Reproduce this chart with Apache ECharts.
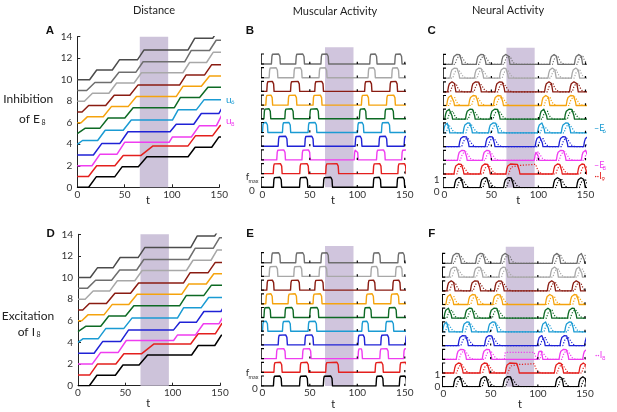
<!DOCTYPE html>
<html><head><meta charset="utf-8">
<script src="https://cdn.jsdelivr.net/npm/echarts/dist/echarts.min.js"></script>
<style>html,body{margin:0;padding:0;background:#fff}#c{width:617px;height:412px}</style>
</head><body><div id="c"></div>
<script>
// ---------------- data ----------------
const ROW_COLORS = ['#000000','#e41f1d','#ef3df0','#1f22d6','#1a9bd3','#0d6a24','#f5a30d','#8a1c12','#a8a8a8','#6e6e6e'];
const HEAD_COLOR = '#4b4b4b';
const X_TICKS = [0, 50, 100, 150];
const DIST_TICKS = [0, 2, 4, 6, 8, 10, 12, 14];
const SHADE_T = [66, 96];

// muscle pulses [on, off], top row (inhibition of E8), rows bottom -> top
const B_BLACK   = [[12,20],[39.5,47.5],[64.5,73.5],[117,124.5],[142,149.5]];
const B_RED     = [[11.8,20.5],[39.7,48.5],[67,80],[117,125],[143,151]];
const B_MAGENTA = [[15.5,24],[42,50],[97,100.5],[120.5,129],[147,153]];
const B_BLUE    = [[17,26],[45,53.5],[98,104.5],[123,131],[149.5,156]];
const B_CYAN    = [[0.5,5.5],[21.5,29.5],[48.5,57],[100.5,106.5],[125.7,134]];
const B_GREEN   = [[2,8.5],[24,32.5],[50.2,59],[102.5,109],[129.2,138]];
const B_ORANGE  = [[4,10.5],[27.4,36],[53.7,62.5],[104.6,111.8],[131,139.7]];
const B_BROWN   = [[5,12],[30,39],[55.5,64],[108,115],[134.5,142]];
const B_LGRAY   = [[7.5,16],[33.4,41.5],[60,67.8],[111.6,118.6],[136.5,143.5]];
const B_GRAY    = [[9.9,18.6],[35.5,44],[62,69.5],[113.4,120.4],[139.7,146.7]];

// muscle pulses, bottom row (excitation of I8)
const E_BLACK   = [[12,20],[39.5,47.5],[64.5,73.5],[120,127],[144.5,151.5]];
const E_RED     = [[12.5,20.5],[40,48.5],[67,80],[119,127],[145,152]];
const E_MAGENTA = [[15,24],[42.5,51],[101,105],[124,132.5],[149,156]];
const E_BLUE    = [[17,26],[45,53.5],[101,107.5],[125,133],[151,158]];
const E_CYAN    = [[0.5,5.5],[21.5,29.5],[48.5,57],[105,111.5],[130,138]];
const E_GREEN   = [[2,8.5],[24,32.5],[50.2,59],[107.5,114.5],[133,141]];
const E_ORANGE  = [[4,10.5],[27.4,36],[53.7,62.5],[109.5,117],[135.5,143.5]];
const E_BROWN   = [[5,12],[30,39],[55.5,64],[111.5,118.5],[137.5,145]];
const E_LGRAY   = [[7.5,16],[33.4,41.5],[60,67.8],[114.5,121.5],[140.5,147]];
const E_GRAY    = [[9.9,18.6],[35.5,44],[62,69.5],[116.8,123.9],[143,149.5]];

// distance gained during each pulse (panels A, D)
const RISE_BLACK   = [0.97,0.95,0.92,0.88,0.95];
const RISE_RED     = [1.0,0.95,0.9,0.95,0.95];
const RISE_MAGENTA = [1.08,1.1,0.5,1.05,1.05];
const RISE_BLUE    = [1.08,1.08,0.7,1.0,1.0];
const RISE_CYAN    = [0.35,0.95,0.95,0.95,0.95];
const RISE_GREEN   = [0.5,0.95,0.95,0.95,0.95];
const RISE_ORANGE  = [0.55,0.95,0.95,0.95,0.95];
const RISE_BROWN   = [0.6,0.95,0.95,0.95,0.95];
const RISE_LGRAY   = [0.75,0.95,0.95,0.95,0.95];
const RISE_GRAY    = [0.75,0.95,0.97,1.05,0.95];
const HEAD_PULSES_A = [[13,20.5],[37,44.5],[63.5,70.5],[117,124],[143,150]];
const HEAD_PULSES_D = [[13,20.5],[37,44.5],[63.5,70.5],[119,126],[144.5,151]];
const HEAD_RISE = [0.9,0.95,0.92,1.08,0.95];

// shape templates: [offset, level]
const M_UP   = [[-0.3,0],[0.2,0.75],[0.8,0.97],[1.5,1]];
const M_DOWN = [[-1.4,1],[-0.7,0.97],[-0.1,0.75],[0.4,0]];
const E_UP   = [[-1.5,0],[-0.6,0.5],[0.4,0.8],[1.8,0.96],[3.2,1]];
const E_DOWN = [[-2.4,0.97],[-1.2,0.82],[-0.3,0.35],[0.3,0]];
const I_UP   = [[1.5,0],[3,0.45],[4.5,0.7]];
const I_DOWN = [[-1,0.85],[0.6,0.8],[2,0.45],[4,0.16],[6,0.04],[7.5,0]];

// sustained inhibitory activity in the shaded window
const C_I9_HOLD = {row: 1, pulse: 2, until: 97, level: 0.97};
const F_I9_HOLD = {row: 1, pulse: 2, until: 96, level: 0.92};
const F_I8_PLATEAU = [[64.5,0],[65.5,0.7],[96,0.7],[97.5,0.3],[99,0]];
const ROW_GAP = 1.37;

const B_ROWS = [B_BLACK,B_RED,B_MAGENTA,B_BLUE,B_CYAN,B_GREEN,B_ORANGE,B_BROWN,B_LGRAY,B_GRAY];
const E_ROWS = [E_BLACK,E_RED,E_MAGENTA,E_BLUE,E_CYAN,E_GREEN,E_ORANGE,E_BROWN,E_LGRAY,E_GRAY];
const RISES  = [RISE_BLACK,RISE_RED,RISE_MAGENTA,RISE_BLUE,RISE_CYAN,RISE_GREEN,RISE_ORANGE,RISE_BROWN,RISE_LGRAY,RISE_GRAY];

// ---------------- builders ----------------
function shapeTrace(pulses, up, down, base) {
  const pts = [[-5, base]];
  pulses.forEach(([s, e]) => {
    const dn = down.map(([d, v]) => [e + d, base + v]);
    up.forEach(([d, v]) => { if (s + d < dn[0][0]) pts.push([s + d, base + v]); });
    pts.push(...dn);
  });
  pts.push([160, base]);
  return pts;
}
function inhibTrace(pulses, base, hold, extra) {
  let pts = [[-5, base]];
  pulses.forEach(([s, e], k) => {
    let dn;
    if (hold && hold.pulse === k) {
      dn = [[e - 1, base + 0.85], [e + 1, base + hold.level], [hold.until, base + hold.level]]
        .concat(I_DOWN.slice(2).map(([d, v]) => [hold.until + d, base + v]));
    } else {
      dn = I_DOWN.map(([d, v]) => [e + d, base + v]);
    }
    I_UP.forEach(([d, v]) => { if (s + d < dn[0][0]) pts.push([s + d, base + v]); });
    pts.push(...dn);
  });
  if (extra) pts = pts.concat(extra.map(([t, v]) => [t, base + v]));
  pts.push([160, base]);
  pts.sort((a, b) => a[0] - b[0]);
  return pts;
}
function distLine(start, pulses, rises) {
  const pts = [[0, start]]; let v = start;
  pulses.forEach(([s, e], k) => { pts.push([Math.max(s, 0), v]); v += rises[k]; pts.push([e, v]); });
  pts.push([160, v]);
  return pts;
}

// ---------------- chart ----------------
const chart = echarts.init(document.getElementById('c'), null, {renderer: 'canvas', width: 617, height: 412});
const FONT = 'Lato, "Open Sans", sans-serif';
const grids = [
  {left: 77.3, top: 36.7, width: 142, height: 150.6},
  {left: 262.3, top: 47.3, width: 142.5, height: 140},
  {left: 444.3, top: 47.7, width: 141.2, height: 140},
  {left: 78, top: 234.3, width: 142, height: 151.4},
  {left: 262.3, top: 246, width: 142.5, height: 140},
  {left: 443.5, top: 246.7, width: 141.5, height: 140}
];
const isDist = g => g === 0 || g === 3;
const xAxes = grids.map((g, i) => ({
  gridIndex: i, type: 'value', min: X_TICKS[0], max: X_TICKS[X_TICKS.length - 1], interval: 50,
  axisLine: {show: isDist(i), lineStyle: {color: '#222', width: 1}},
  axisTick: {show: isDist(i), inside: true, length: 3, lineStyle: {color: '#222'}},
  splitLine: {show: false},
  axisLabel: {fontSize: 10, color: '#333', margin: 2, fontFamily: FONT}
}));
const yAxes = grids.map((g, i) => isDist(i) ? ({
  gridIndex: i, type: 'value', min: DIST_TICKS[0], max: DIST_TICKS[DIST_TICKS.length - 1], interval: 2,
  axisLine: {show: true, lineStyle: {color: '#222', width: 1}},
  axisTick: {show: true, inside: true, length: 3, lineStyle: {color: '#222'}},
  splitLine: {show: false},
  axisLabel: {fontSize: 10, color: '#333', margin: 5, fontFamily: FONT}
}) : ({gridIndex: i, type: 'value', min: 0, max: 14, show: false, splitLine: {show: false}}));

const series = [];
function shade(g, onTop) {
  series.push({
    type: 'line', xAxisIndex: g, yAxisIndex: g, data: [[SHADE_T[0], 0]], symbol: 'none',
    lineStyle: {width: 0, opacity: 0}, silent: true, z: onTop ? 20 : 1,
    markArea: {silent: true, itemStyle: {color: onTop ? 'rgba(144,117,173,0.42)' : '#cdc3da'},
      data: [[{xAxis: SHADE_T[0]}, {xAxis: SHADE_T[1]}]]}
  });
}
function line(g, data, color, width, dotted, z) {
  series.push({type: 'line', xAxisIndex: g, yAxisIndex: g, data, symbol: 'none', silent: true,
    clip: true, z: z || 3,
    lineStyle: {color, width, type: dotted ? [1.2, 1.6] : 'solid', cap: 'butt', join: 'round'}});
}
function frames(g) {
  const items = [];
  for (let i = 0; i < 10; i++) {
    const b = i * ROW_GAP;
    items.push({coords: [[1.8, b + 1], [-1.2, b + 1], [-1.2, b], [1.8, b]]});
    [50, 100, 150].forEach(t => items.push({coords: [[t, b], [t, b + 0.22]]}));
  }
  series.push({type: 'lines', coordinateSystem: 'cartesian2d', xAxisIndex: g, yAxisIndex: g,
    polyline: true, silent: true, z: 4, lineStyle: {color: '#000', width: 1.2, opacity: 1}, data: items});
}

// A and D: distance
[[0, B_ROWS, HEAD_PULSES_A], [3, E_ROWS, HEAD_PULSES_D]].forEach(([g, rows, head]) => {
  shade(g, false);
  rows.forEach((p, i) => line(g, distLine(i, p, RISES[i]), ROW_COLORS[i], 1.5));
  line(g, distLine(10, head, HEAD_RISE), HEAD_COLOR, 1.5);
});
// B and E: muscular activity
[[1, B_ROWS], [4, E_ROWS]].forEach(([g, rows]) => {
  rows.forEach((p, i) => line(g, shapeTrace(p, M_UP, M_DOWN, i * ROW_GAP), ROW_COLORS[i], 1.4));
  frames(g);
  shade(g, true);
});
// C and F: neural activity
[[2, B_ROWS, C_I9_HOLD, null], [5, E_ROWS, F_I9_HOLD, F_I8_PLATEAU]].forEach(([g, rows, hold, plateau]) => {
  rows.forEach((p, i) => {
    const b = i * ROW_GAP;
    line(g, shapeTrace(p, E_UP, E_DOWN, b), ROW_COLORS[i], 1.3);
    line(g, inhibTrace(p, b, hold.row === i ? hold : null, (plateau && i === 2) ? plateau : null), ROW_COLORS[i], 1.2, true);
  });
  frames(g);
  shade(g, true);
});

// ---------------- text ----------------
function T(x, y, text, o) {
  o = o || {};
  return {type: 'text', x, y, silent: true, z: 50, style: {
    text, fill: o.color || '#222', fontSize: o.size || 11, fontFamily: o.family || FONT,
    fontWeight: o.weight || 'normal', textAlign: o.align || 'center', textVerticalAlign: 'middle',
    align: o.align || 'center', verticalAlign: 'middle'}};
}
const BOLD = {weight: 'bold', size: 11.5, family: '"Liberation Sans", Arial, sans-serif', color: '#111'};
const graphic = [
  T(154, 10, 'Distance', {size: 11}),
  T(335, 11, 'Muscular Activity', {size: 11}),
  T(508, 10, 'Neural Activity', {size: 11}),
  T(50, 31, 'A', BOLD), T(250, 31, 'B', BOLD), T(431.7, 31, 'C', BOLD),
  T(50.7, 234, 'D', BOLD), T(250, 234, 'E', BOLD), T(431.7, 234, 'F', BOLD),
  T(28.3, 99.3, 'Inhibition', {size: 12}),
  T(40, 119.3, 'of E', {size: 12, align: 'right'}), T(41.5, 122.5, '8', {size: 7, align: 'left'}),
  T(28, 316, 'Excitation', {size: 12}),
  T(35, 331.7, 'of I', {size: 12, align: 'right'}), T(36.5, 335, '8', {size: 7, align: 'left'}),
  T(148, 200.5, 't', {size: 11}), T(333, 200.5, 't', {size: 11}), T(518.3, 200.5, 't', {size: 11}),
  T(148.3, 403, 't', {size: 11}), T(333.3, 404, 't', {size: 11}), T(520, 404, 't', {size: 11}),
  // u6 / u8
  T(226, 99.5, 'u', {size: 10, align: 'left', color: ROW_COLORS[4]}), T(231, 102.5, '6', {size: 6, align: 'left', color: ROW_COLORS[4]}),
  T(226, 121, 'u', {size: 10, align: 'left', color: ROW_COLORS[2]}), T(231, 124, '8', {size: 6, align: 'left', color: ROW_COLORS[2]}),
  // f_max / 0
  T(247.5, 177, 'f', {size: 10, color: '#333'}), T(248.5, 181.5, 'max', {size: 5.5, align: 'left', color: '#333'}),
  T(252, 190.5, '0', {size: 10, color: '#333'}),
  T(247.5, 373, 'f', {size: 10, color: '#333'}), T(248.5, 377.5, 'max', {size: 5.5, align: 'left', color: '#333'}),
  T(255, 388.3, '0', {size: 10, color: '#333'}),
  // 1 / 0 of neural panels
  T(436.7, 180, '1', {size: 10, color: '#333'}), T(436.7, 191.7, '0', {size: 10, color: '#333'}),
  T(437.3, 374.5, '1', {size: 10, color: '#333'}), T(437.3, 386.7, '0', {size: 10, color: '#333'}),
  // neural labels
  T(594, 128, '\u2013E', {size: 9, align: 'left', color: ROW_COLORS[4]}), T(602.5, 131, '6', {size: 6, align: 'left', color: ROW_COLORS[4]}),
  T(594, 165.5, '\u2013E', {size: 9, align: 'left', color: ROW_COLORS[2]}), T(602.5, 168.5, '8', {size: 6, align: 'left', color: ROW_COLORS[2]}),
  T(594.5, 175.7, '\u00b7\u00b7I', {size: 9, align: 'left', color: ROW_COLORS[1]}), T(601.5, 178.7, '9', {size: 6, align: 'left', color: ROW_COLORS[1]}),
  T(595, 355, '\u00b7\u00b7I', {size: 9, align: 'left', color: ROW_COLORS[2]}), T(602, 358, '8', {size: 6, align: 'left', color: ROW_COLORS[2]})
];

chart.setOption({
  animation: false,
  backgroundColor: '#ffffff',
  textStyle: {fontFamily: FONT},
  grid: grids.map(g => Object.assign({containLabel: false}, g)),
  xAxis: xAxes, yAxis: yAxes, series, graphic
});
</script></body></html>
